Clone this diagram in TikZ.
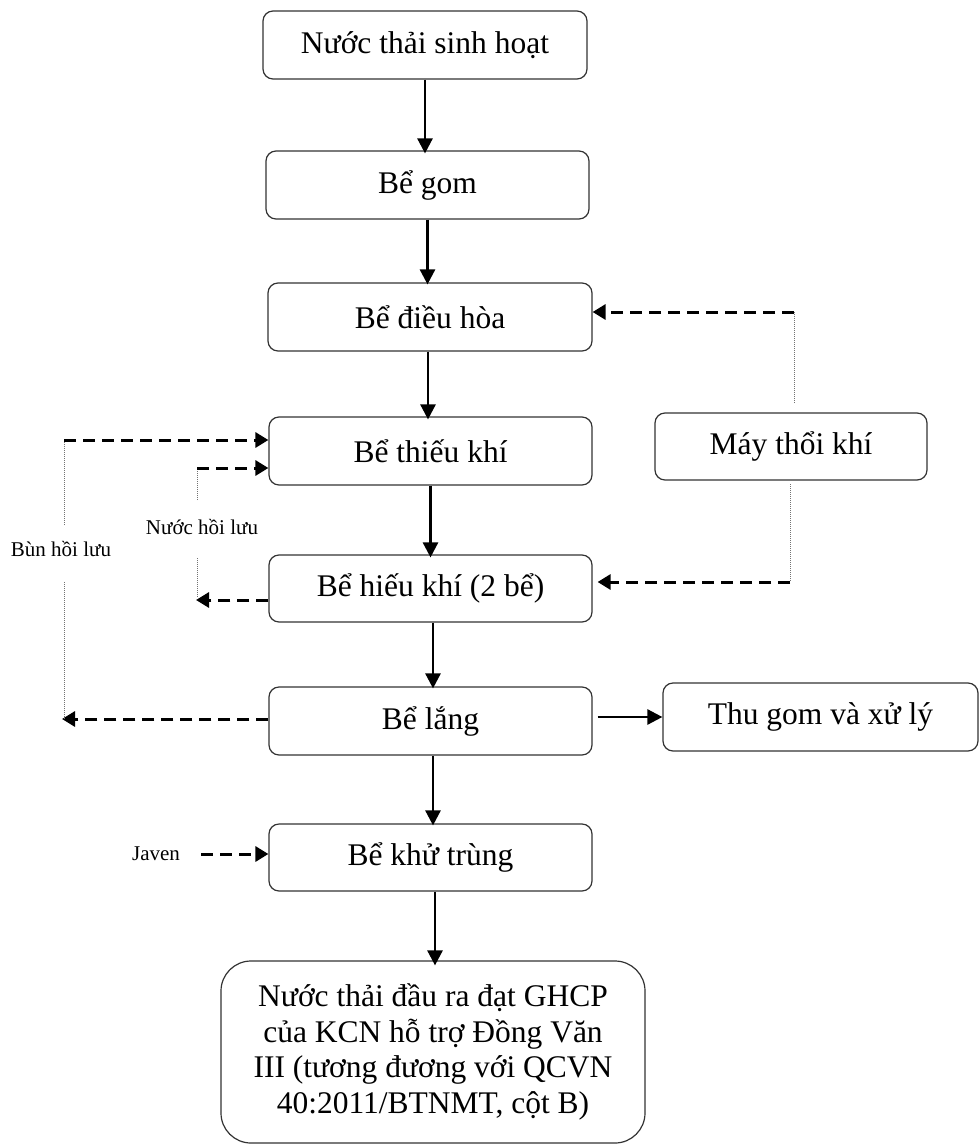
\documentclass[tikz,border=0pt]{standalone}
\usepackage{fontspec}
\setmainfont{Liberation Serif}
\usetikzlibrary{arrows.meta}
\begin{document}
\begin{tikzpicture}[x=1pt,y=-1pt,
 box/.style={draw=black!80,line width=1.2pt,rounded corners=10pt,inner sep=0pt,align=center,font=\fontsize{31.5}{35.5}\selectfont},
 flow/.style={line width=2.6pt,-{Triangle[length=15pt,width=15pt]}},
 dasharrow/.style={line width=3pt,dash pattern=on 12pt off 7pt,-{Triangle[length=13pt,width=15pt]}},
 dotline/.style={draw=black!55,line width=1pt,dash pattern=on 1pt off 1pt},
 small/.style={font=\fontsize{21}{24}\selectfont,inner sep=0pt}]
\useasboundingbox (0,0) rectangle (979,1146);
% main column
\node[box,minimum width=324pt,minimum height=68pt] (b1) at (425,45) {Nước thải sinh hoạt};
\node[box,minimum width=323pt,minimum height=68pt] (b2) at (427.5,185) {Bể gom};
\node[box,minimum width=324pt,minimum height=68pt] (b3) at (430,317) {Bể điều hòa};
\node[box,minimum width=323pt,minimum height=68pt] (b4) at (430.5,451) {Bể thiếu khí};
\node[box,minimum width=323pt,minimum height=67pt] (b5) at (430.5,588.5) {Bể hiếu khí (2 bể)};
\node[box,minimum width=323pt,minimum height=68pt] (b6) at (430.5,721) {Bể lắng};
\node[box,minimum width=323pt,minimum height=67pt] (b7) at (430.5,857.5) {Bể khử trùng};
\node[box,rounded corners=30pt,minimum width=424pt,minimum height=182pt] (fin) at (433,1052)
  {Nước thải đầu ra đạt GHCP\\của KCN hỗ trợ Đồng Văn\\III (tương đương với QCVN\\40:2011/BTNMT, cột B)};
\node[box,minimum width=315pt,minimum height=68pt] (tg) at (820.5,717) {Thu gom và xử lý};
\node[box,minimum width=272pt,minimum height=67pt] (mt) at (791,446.5) {Máy thổi khí};
% solid flow
\draw[flow] (b1.south) -- ([yshift=-3pt]b1.south |- b2.north);
\draw[flow] (b2.south) -- ([yshift=-2pt]b2.south |- b3.north);
\draw[flow] (b3.south -| 428,0) -- ([yshift=-3pt]b4.north -| 428,0);
\draw[flow] (b4.south) -- ([yshift=-3pt]b4.south |- b5.north);
\draw[flow] (b5.south -| 433,0) -- ([yshift=-2pt]b6.north -| 433,0);
\draw[flow] (b6.south -| 433,0) -- ([yshift=-2pt]b7.north -| 433,0);
\draw[flow] (b7.south -| 435,0) -- ([yshift=-5pt]fin.north -| 435,0);
\draw[flow] ([xshift=5pt]b6.east |- tg.west) -- (tg.west);
% Bùn hồi lưu
\coordinate (bunTop) at (64,440);
\coordinate (bunBot) at (62,719);
\coordinate (bunA) at (64,525);
\coordinate (bunB) at (64,582);
\node[small] (bun) at (61,549) {Bùn hồi lưu};
\draw[dasharrow] (b6.west |- bunBot) -- (bunBot);
\draw[dotline] (64,719) -- (bunB);
\draw[dotline] (bunA) -- (bunTop);
\draw[dasharrow] (bunTop) -- (b4.west |- bunTop);
% Nước hồi lưu
\coordinate (nTop) at (197,468);
\coordinate (nBot) at (196,600);
\coordinate (nA) at (197,500);
\coordinate (nB) at (197,557);
\node[small] (nuoc) at (202,527) {Nước hồi lưu};
\draw[dasharrow] (b5.west |- nBot) -- (nBot);
\draw[dotline] (197,597) -- (nB);
\draw[dotline] (nA) -- (nTop);
\draw[dasharrow] (nTop) -- (b4.west |- nTop);
% Máy thổi khí
\coordinate (aTop) at (794,312);
\coordinate (aTopEnd) at (794,403);
\coordinate (aBot) at (790,582);
\coordinate (aBotStart) at (790,484);
\draw[dotline] (aTopEnd) -- (aTop);
\draw[dasharrow] (aTop) -- (b3.east |- aTop);
\draw[dotline] (aBotStart) -- (aBot);
\draw[dasharrow] (aBot) -- ([xshift=5pt]b5.east |- aBot);
% Javen
\node[small] (jav) at (156,854) {Javen};
\draw[dasharrow] ([xshift=21pt]jav.east) -- (b7.west |- jav.east);
\end{tikzpicture}
\end{document}
